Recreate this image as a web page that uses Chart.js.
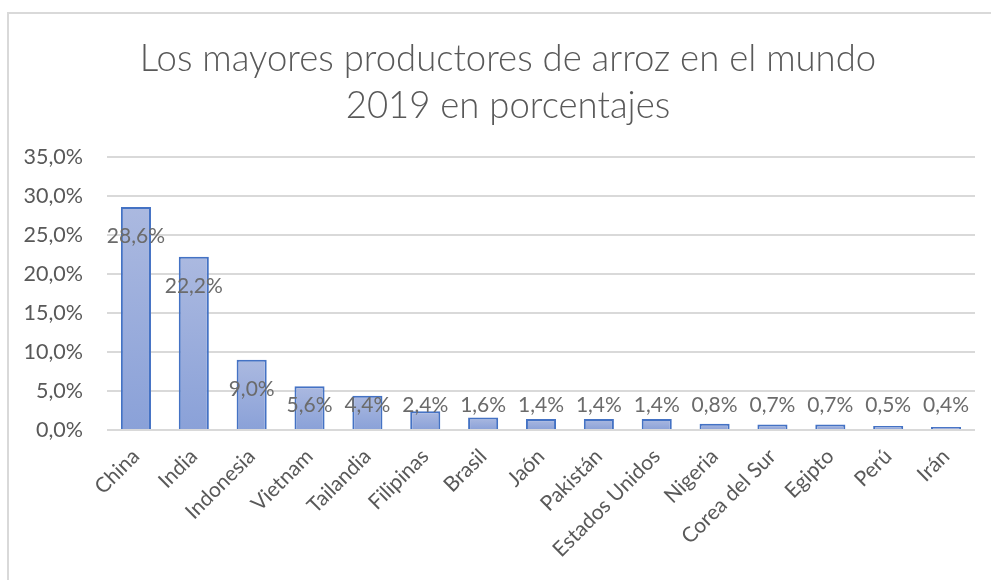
<!DOCTYPE html>
<html>
<head>
<meta charset="utf-8">
<script src="https://cdn.jsdelivr.net/npm/chart.js@4"></script>
<style>
    html, body { margin: 0; padding: 0; background: #fff; overflow: hidden; }
    #wrap { position: relative; width: 991px; height: 580px; }
    #frame { position: absolute; left: 7px; top: 12px; width: 1000px; height: 600px;
             border-left: 2px solid #d9d9d9; border-top: 2px solid #d9d9d9; box-sizing: border-box; }
    canvas { position: absolute; left: 0; top: 0; }
</style>
</head>
<body>
<div id="wrap">
    <div id="frame"></div>
    <canvas id="rice-chart" width="991" height="580"></canvas>
</div>
<script>
// Data
const countries = ['China', 'India', 'Indonesia', 'Vietnam', 'Tailandia', 'Filipinas', 'Brasil', 'Jaón',
    'Pakistán', 'Estados Unidos', 'Nigeria', 'Corea del Sur', 'Egipto', 'Perú', 'Irán'];
const shares = [28.6, 22.2, 9.0, 5.6, 4.4, 2.4, 1.6, 1.4, 1.4, 1.4, 0.8, 0.7, 0.7, 0.5, 0.4];
const titleLines = ['Los mayores productores de arroz en el mundo', '2019 en porcentajes'];

const gray = '#595959';
const fontFamily = 'Lato, "Open Sans", sans-serif';

// comma decimal like the Spanish Excel original
function pct(v) {
    return v.toFixed(1).replace('.', ',') + '%';
}

// vertical gradient for each bar, light on top, darker at the base
function barFill(context) {
    const chart = context.chart;
    const yScale = chart.scales.y;
    if (!yScale || context.dataIndex === undefined) return '#9aaddc';
    const top = yScale.getPixelForValue(shares[context.dataIndex]);
    const base = yScale.getPixelForValue(0);
    if (!isFinite(top) || !isFinite(base) || base - top < 1) return '#a6b5dd';
    const g = chart.ctx.createLinearGradient(0, top, 0, base);
    g.addColorStop(0, '#abb9e0');
    g.addColorStop(1, '#8aa1d8');
    return g;
}

// draws the two title lines
const titlePlugin = {
    id: 'titleLines',
    afterDraw(chart) {
        const ctx = chart.ctx;
        ctx.save();
        ctx.fillStyle = gray;
        ctx.font = '300 36.5px ' + fontFamily;
        ctx.textAlign = 'center';
        ctx.textBaseline = 'middle';
        titleLines.forEach((line, i) => ctx.fillText(line, 508, 59 + i * 47));
        ctx.restore();
    }
};

// value labels, near the top inside the tall bars, kept above the axis for short ones
const valueLabels = {
    id: 'valueLabels',
    afterDatasetsDraw(chart) {
        const ctx = chart.ctx;
        const meta = chart.getDatasetMeta(0);
        const base = chart.scales.y.getPixelForValue(0);
        ctx.save();
        ctx.fillStyle = '#6b6b6b';
        ctx.font = '21px ' + fontFamily;
        ctx.textAlign = 'center';
        ctx.textBaseline = 'middle';
        meta.data.forEach((bar, i) => {
            const y = Math.min(bar.y + 29, base - 25);
            ctx.fillText(pct(shares[i]), bar.x, y);
        });
        ctx.restore();
    }
};

const ctx = document.getElementById('rice-chart').getContext('2d');
new Chart(ctx, {
    type: 'bar',
    data: {
        labels: countries,
        datasets: [{
            data: shares,
            backgroundColor: barFill,
            borderColor: '#4472c4',
            borderWidth: 2,
            barPercentage: 0.52,
            categoryPercentage: 1.0
        }]
    },
    options: {
        responsive: false,
        animation: false,
        layout: { padding: { top: 157, right: 16, bottom: 0, left: 0 } },
        plugins: {
            legend: { display: false },
            title: { display: false },
            tooltip: { enabled: false }
        },
        scales: {
            x: {
                grid: { display: false, drawTicks: false },
                border: { display: false },
                ticks: {
                    color: gray,
                    font: { family: fontFamily, size: 21 },
                    minRotation: 45,
                    maxRotation: 45,
                    autoSkip: false,
                    padding: 14
                },
                afterFit(scale) { scale.height = 150; }
            },
            y: {
                min: 0,
                max: 35,
                ticks: {
                    stepSize: 5,
                    color: gray,
                    font: { family: fontFamily, size: 21.5 },
                    padding: 24,
                    callback: (v) => pct(v)
                },
                grid: { color: '#d9d9d9', lineWidth: 2, drawTicks: false },
                border: { display: false },
                afterFit(scale) { scale.width = 107; }
            }
        }
    },
    plugins: [titlePlugin, valueLabels]
});
</script>
</body>
</html>
